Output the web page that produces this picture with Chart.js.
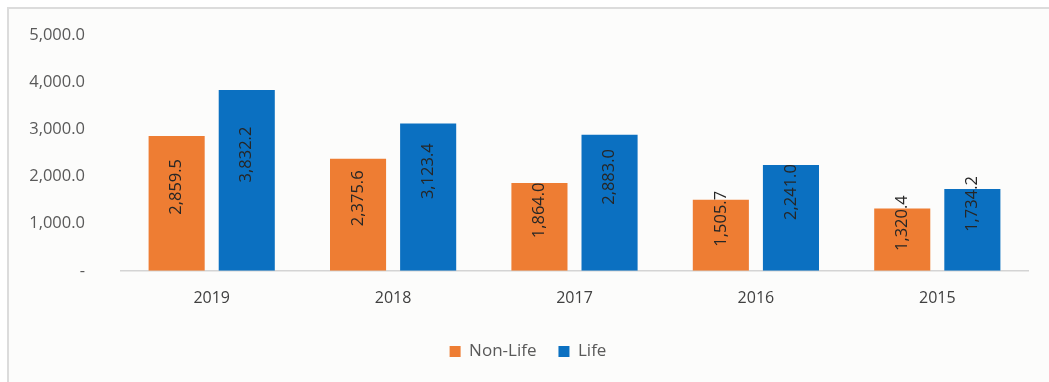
<!DOCTYPE html>
<html>
<head>
<meta charset="utf-8">
<script src="https://cdn.jsdelivr.net/npm/chart.js@4.4.1/dist/chart.umd.min.js"></script>
<style>
  html, body { margin: 0; padding: 0; background: #ffffff; }
  #frame {
    position: absolute; left: 7px; top: 7px; width: 1040px; height: 380px;
    border-left: 2px solid #dcdcdc; border-top: 2px solid #dcdcdc; border-right: 2px solid #e4e4e4;
    background: #fcfcfb;
  }
  #wrap { position: absolute; left: 0; top: 0; width: 1049px; height: 382px; }
</style>
</head>
<body>
<div id="frame"></div>
<div id="wrap"><canvas id="c" width="1049" height="382"></canvas></div>
<script>
const years = ['2019', '2018', '2017', '2016', '2015'];
const nonLife = [2859.5, 2375.6, 1864.0, 1505.7, 1320.4];
const life = [3832.2, 3123.4, 2883.0, 2241.0, 1734.2];
const yTicks = [0, 1000, 2000, 3000, 4000, 5000];

const ORANGE = '#EE7D33';
const BLUE = '#0B70C1';
const FONT = '"Open Sans", "DejaVu Sans", sans-serif';

function fmt(v) {
  return v.toLocaleString('en-US', { minimumFractionDigits: 1, maximumFractionDigits: 1 });
}

// Rotated value labels drawn inside each bar, shifted up from the bar middle
const barValueLabels = {
  id: 'barValueLabels',
  afterDatasetsDraw(chart) {
    const ctx = chart.ctx;
    const yScale = chart.scales.y;
    const lift = [350, 550];
    ctx.save();
    ctx.font = '16.5px ' + FONT;
    ctx.fillStyle = '#262626';
    ctx.textAlign = 'center';
    ctx.textBaseline = 'middle';
    chart.data.datasets.forEach((ds, di) => {
      const meta = chart.getDatasetMeta(di);
      meta.data.forEach((bar, i) => {
        const v = ds.data[i];
        const y = yScale.getPixelForValue(v / 2 + lift[di]);
        ctx.save();
        ctx.translate(bar.x, y);
        ctx.rotate(-Math.PI / 2);
        ctx.fillText(fmt(v), 0, 0);
        ctx.restore();
      });
    });
    ctx.restore();
  }
};

new Chart(document.getElementById('c'), {
  type: 'bar',
  data: {
    labels: years,
    datasets: [
      { label: 'Non-Life', data: nonLife, backgroundColor: ORANGE, borderWidth: 0 },
      { label: 'Life', data: life, backgroundColor: BLUE, borderWidth: 0 }
    ]
  },
  options: {
    responsive: false,
    animation: false,
    devicePixelRatio: 1,
    categoryPercentage: 0.773,
    barPercentage: 0.8,
    layout: { padding: { left: 28, right: 21, top: 35, bottom: 12 } },
    plugins: {
      tooltip: { enabled: false },
      legend: {
        position: 'bottom',
        labels: {
          font: { family: FONT, size: 17 },
          color: '#595959',
          boxWidth: 11,
          boxHeight: 11,
          padding: 22
        }
      }
    },
    scales: {
      x: {
        afterFit(axis) { axis.height -= 5; },
        grid: { display: false, drawTicks: false },
        border: { display: true, color: '#d4d4d4', width: 1.5 },
        ticks: { font: { family: FONT, size: 16 }, color: '#404040', padding: 18 }
      },
      y: {
        min: 0,
        max: 5000,
        afterBuildTicks(axis) { axis.ticks = yTicks.map(v => ({ value: v })); },
        afterFit(axis) {
          axis.width = 93;
          axis.paddingTop = 0;
          axis.paddingBottom = 0;
        },
        grid: { display: false, drawTicks: false },
        border: { display: false },
        ticks: {
          font: { family: FONT, size: 16.5 },
          color: '#595959',
          padding: 36,
          callback: v => (v === 0 ? '-' : fmt(v))
        }
      }
    }
  },
  plugins: [barValueLabels]
});
</script>
</body>
</html>
